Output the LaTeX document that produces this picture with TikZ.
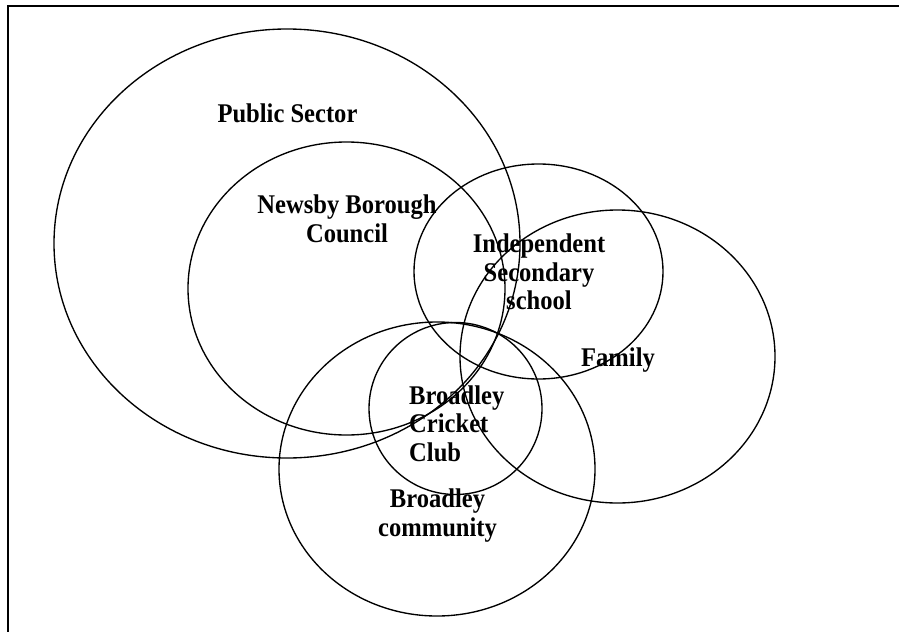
\documentclass[tikz,border=0pt]{standalone}
\usepackage{fontspec}
\setmainfont{Liberation Serif}
\newfontfamily\lblfont[FakeStretch=0.91]{Liberation Serif}
\usetikzlibrary{shapes.geometric}
\begin{document}
\begin{tikzpicture}[x=1pt,y=-1pt,
  ring/.style={draw=black,line width=1.35pt,ellipse,inner sep=0pt,outer sep=0pt},
  frameline/.style={draw=black,line width=1.6pt},
  lbl/.style={font=\lblfont\fontsize{27}{28.5}\selectfont\bfseries,inner sep=0pt,anchor=base},
  lblc/.style={lbl,align=center},
  lbll/.style={lbl,align=left}]
\useasboundingbox (0,0) rectangle (899,632);
% frame (top and left edges visible)
\coordinate (ftr) at (899,6);
\coordinate (ftl) at (8,6);
\coordinate (fbl) at (8,632);
\draw[frameline] (ftr) -- (ftl) -- (fbl);
% ellipses
\node[ring,minimum width=466pt,minimum height=429pt] (pub) at (287,243.5) {};
\node[ring,minimum width=317pt,minimum height=293pt] (nbc) at (346.5,288.5) {};
\node[ring,minimum width=249pt,minimum height=215pt] (iss) at (538.5,271.5) {};
\node[ring,minimum width=315pt,minimum height=293pt] (fam) at (617.5,356.5) {};
\node[ring,minimum width=316pt,minimum height=294pt] (com) at (437,469) {};
\node[ring,minimum width=173pt,minimum height=172pt] (bcc) at (455.5,408.5) {};
% labels (base = baseline of last line)
\node[lbl] (tpub) at (287.5,122) {Public Sector};
\node[lblc] (tnbc) at (347,242) {Newsby Borough\\Council};
\node[lblc] (tiss) at (539,309.5) {Independent\\Secondary\\school};
\node[lbl] (tfam) at (618,366) {Family};
\node[lbll,anchor=base west] (tbcc) at (409,461) {Broadley\\Cricket\\Club};
\node[lblc] (tcom) at (437.5,536) {Broadley\\community};
\end{tikzpicture}
\end{document}
